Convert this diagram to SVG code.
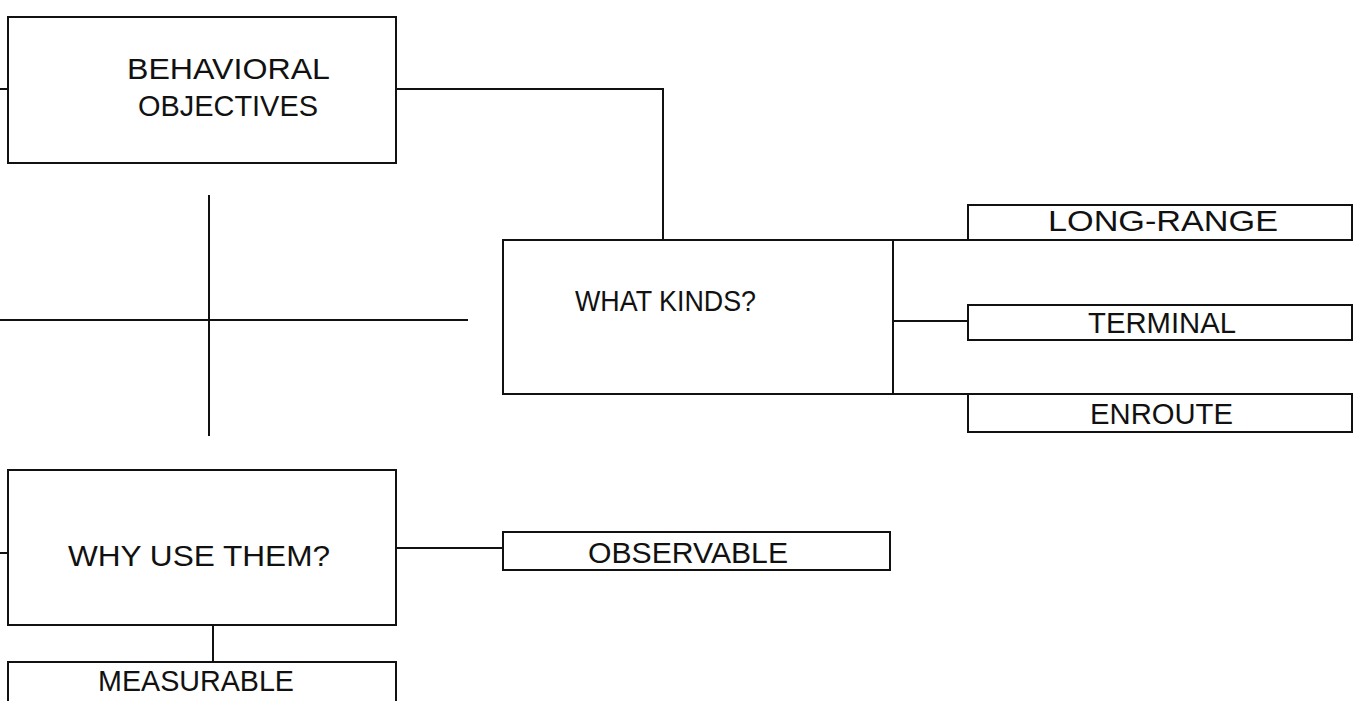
<svg xmlns="http://www.w3.org/2000/svg" width="1358" height="701" viewBox="0 0 1358 701">
<style>
.box{fill:none;stroke:#111;stroke-width:2}
.ln{fill:none;stroke:#111;stroke-width:2}
.t{font-family:"Liberation Sans",Arial,sans-serif;font-size:30px;fill:#111;text-anchor:start}
</style>
<rect width="1358" height="701" fill="#fff"/>
<g id="connectors">
<line class="ln" x1="0" y1="89" x2="8" y2="89"/>
<polyline class="ln" points="396,89 663,89 663,240"/>
<line class="ln" x1="893" y1="240" x2="968" y2="240"/>
<line class="ln" x1="893" y1="321" x2="968" y2="321"/>
<line class="ln" x1="893" y1="394" x2="968" y2="394"/>
<line class="ln" x1="0" y1="320" x2="468" y2="320"/>
<line class="ln" x1="209" y1="195" x2="209" y2="436"/>
<line class="ln" x1="0" y1="553" x2="8" y2="553"/>
<line class="ln" x1="396" y1="548" x2="503" y2="548"/>
<line class="ln" x1="213" y1="625" x2="213" y2="662"/>
</g>
<g id="behavioral-objectives">
<rect class="box" x="8" y="17" width="388" height="146"/>
<text class="t" x="127" y="79" textLength="203" lengthAdjust="spacingAndGlyphs">BEHAVIORAL</text>
<text class="t" x="138" y="116" textLength="180" lengthAdjust="spacingAndGlyphs">OBJECTIVES</text>
</g>
<g id="what-kinds">
<rect class="box" x="503" y="240" width="390" height="154"/>
<text class="t" x="575" y="311" textLength="181" lengthAdjust="spacingAndGlyphs">WHAT KINDS?</text>
</g>
<g id="long-range">
<rect class="box" x="968" y="205" width="384" height="35"/>
<text class="t" x="1048" y="231" textLength="230" lengthAdjust="spacingAndGlyphs">LONG-RANGE</text>
</g>
<g id="terminal">
<rect class="box" x="968" y="305" width="384" height="35"/>
<text class="t" x="1088" y="333" textLength="148" lengthAdjust="spacingAndGlyphs">TERMINAL</text>
</g>
<g id="enroute">
<rect class="box" x="968" y="394" width="384" height="38"/>
<text class="t" x="1090" y="424" textLength="143" lengthAdjust="spacingAndGlyphs">ENROUTE</text>
</g>
<g id="why-use-them">
<rect class="box" x="8" y="470" width="388" height="155"/>
<text class="t" x="68" y="566" textLength="262" lengthAdjust="spacingAndGlyphs">WHY USE THEM?</text>
</g>
<g id="observable">
<rect class="box" x="503" y="532" width="387" height="38"/>
<text class="t" x="588" y="563" textLength="200" lengthAdjust="spacingAndGlyphs">OBSERVABLE</text>
</g>
<g id="measurable">
<rect class="box" x="8" y="662" width="388" height="40"/>
<text class="t" x="98" y="691" textLength="196" lengthAdjust="spacingAndGlyphs">MEASURABLE</text>
</g>
</svg>
